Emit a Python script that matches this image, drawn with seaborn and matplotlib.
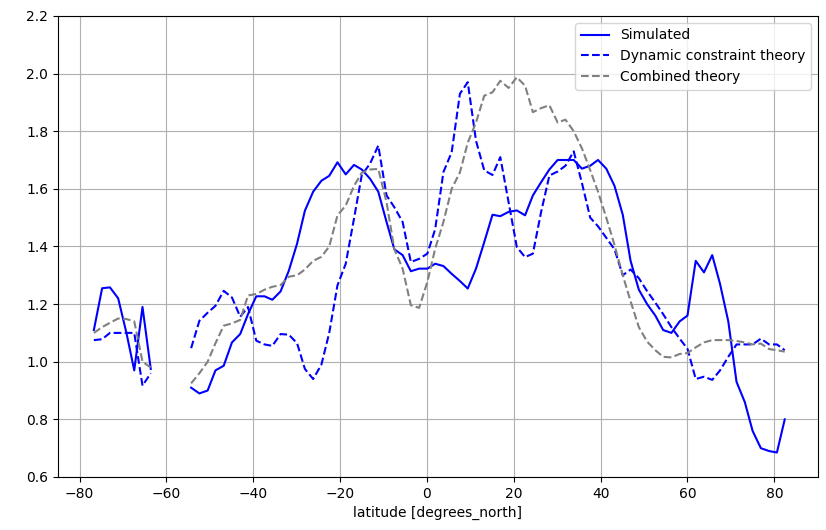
import numpy as np
import pandas as pd
import matplotlib
matplotlib.use("Agg")
import matplotlib.pyplot as plt
import seaborn as sns

lat_left = [-76.7, -74.8, -73.0, -71.1, -69.2, -67.4, -65.5, -63.6]
lat_right = [-54.3, -52.4, -50.5, -48.7, -46.8, -44.9, -43.0, -41.2, -39.3, -37.4,
             -35.6, -33.7, -31.8, -29.9, -28.1, -26.2, -24.3, -22.5,
             -20.6, -18.7, -16.8, -15.0, -13.1, -11.2, -9.3, -7.5, -5.6, -3.7,
             -1.8, 0.1, 1.9, 3.8, 5.7, 7.6, 9.4, 11.3, 13.2, 15.1, 16.9, 18.8,
             20.7, 22.6, 24.4, 26.3, 28.2, 30.1, 31.9, 33.8, 35.7, 37.6, 39.4,
             41.3, 43.2, 45.1, 46.9, 48.8, 50.7, 52.6, 54.4, 56.3, 58.2, 60.0,
             61.9, 63.8, 65.7, 67.5, 69.4, 71.3, 73.2, 75.0, 76.9, 78.8, 80.6, 82.4]

sim_left = [1.11, 1.255, 1.258, 1.22, 1.10, 0.97, 1.19, 0.975]
sim_right = [0.91, 0.89, 0.90, 0.97, 0.986, 1.067, 1.096, 1.165, 1.227, 1.227, 1.215, 1.244,
             1.316, 1.41, 1.524, 1.59, 1.628, 1.645,
             1.692, 1.65, 1.683, 1.667, 1.635, 1.59, 1.485, 1.39, 1.37, 1.314, 1.323, 1.323,
             1.34, 1.332, 1.305, 1.28, 1.254, 1.323, 1.415, 1.51, 1.505, 1.52, 1.525, 1.508,
             1.577, 1.623, 1.667, 1.70,
             1.70, 1.70, 1.67, 1.68, 1.70, 1.67, 1.61, 1.51, 1.35, 1.25, 1.20, 1.16, 1.11,
             1.10, 1.14, 1.16, 1.35, 1.31, 1.37, 1.27, 1.14, 0.93, 0.86, 0.76, 0.70, 0.69,
             0.685, 0.80]

dyn_left = [1.075, 1.078, 1.10, 1.10, 1.10, 1.10, 0.917, 0.96]
dyn_right = [1.047, 1.142, 1.17, 1.194, 1.246, 1.223, 1.156, 1.19, 1.073, 1.06, 1.055, 1.096,
             1.094, 1.064, 0.975, 0.94, 0.99, 1.10,
             1.265, 1.34, 1.496, 1.648, 1.687, 1.75, 1.577, 1.536, 1.485, 1.346, 1.357, 1.375,
             1.46, 1.658, 1.727, 1.93, 1.97, 1.767, 1.664, 1.648, 1.71, 1.554, 1.398, 1.363,
             1.375, 1.52, 1.646, 1.66,
             1.68, 1.73, 1.62, 1.50, 1.47, 1.43, 1.39, 1.30, 1.32, 1.29, 1.245, 1.205, 1.165,
             1.12, 1.08, 1.045, 0.94, 0.948, 0.937, 0.97, 1.017, 1.06, 1.06, 1.06, 1.08, 1.06,
             1.06, 1.04]

com_left = [1.10, 1.12, 1.135, 1.15, 1.148, 1.14, 1.0, 0.98]
com_right = [0.925, 0.96, 1.0, 1.064, 1.125, 1.133, 1.145, 1.23, 1.235, 1.25, 1.26, 1.266,
             1.295, 1.30, 1.32, 1.35, 1.364, 1.40,
             1.508, 1.542, 1.61, 1.656, 1.667, 1.669, 1.554, 1.39, 1.323, 1.196, 1.187, 1.277,
             1.392, 1.485, 1.6, 1.657, 1.76, 1.83, 1.923, 1.935, 1.975, 1.95, 1.987, 1.958,
             1.866, 1.88, 1.89, 1.83,
             1.84, 1.80, 1.74, 1.665, 1.59, 1.50, 1.405, 1.30, 1.21, 1.12, 1.07, 1.04, 1.017,
             1.015, 1.027, 1.03, 1.05, 1.067, 1.075, 1.075, 1.075, 1.072, 1.067, 1.06, 1.063,
             1.044, 1.04, 1.035]

names = ["Simulated", "Dynamic constraint theory", "Combined theory"]
rows = []
for name, left, right in zip(names, [sim_left, dyn_left, com_left], [sim_right, dyn_right, com_right]):
    for x, y in zip(lat_left, left):
        rows.append((name, "a", x, y))
    for x, y in zip(lat_right, right):
        rows.append((name, "b", x, y))
df = pd.DataFrame(rows, columns=["series", "seg", "lat", "val"])

fig, ax = plt.subplots(figsize=(8.26, 5.3), dpi=100)
sns.lineplot(data=df, x="lat", y="val", hue="series", style="series", units="seg",
             estimator=None, sort=False, ax=ax,
             palette={"Simulated": "blue", "Dynamic constraint theory": "blue", "Combined theory": "gray"},
             dashes={"Simulated": "", "Dynamic constraint theory": (3.7, 1.6), "Combined theory": (3.7, 1.6)},
             linewidth=1.5)
ax.set_xlim(-85, 90)
ax.set_ylim(0.6, 2.2)
ax.set_yticks(np.arange(0.6, 2.21, 0.2))
ax.grid(True, color="#b0b0b0", linewidth=0.8)
ax.set_axisbelow(True)
ax.set_xlabel("latitude [degrees_north]")
ax.set_ylabel("")
ax.legend(loc="upper right", title=None)
fig.subplots_adjust(left=0.07, right=0.99, top=0.97, bottom=0.1)
fig.savefig("out.png", dpi=100)
